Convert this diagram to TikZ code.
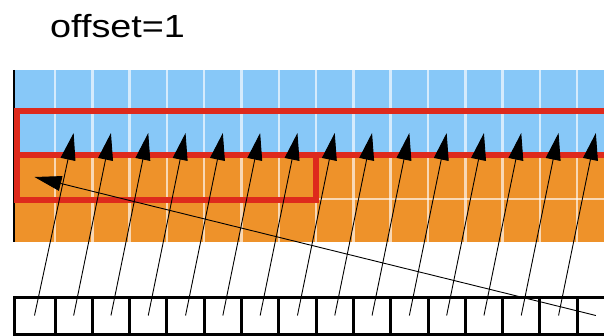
\documentclass[tikz,border=0pt]{standalone}
\usepackage{fontspec}
\setmainfont{Liberation Sans}
\usetikzlibrary{arrows.meta}

\definecolor{cellblue}{RGB}{135,200,248}
\definecolor{cellorange}{RGB}{238,146,42}
\definecolor{framered}{RGB}{222,42,28}

\begin{document}
\begin{tikzpicture}[
  x=1pt, y=-1pt,
  gridline/.style={white, opacity=0.65, line width=2.5pt},
  frame/.style={draw=framered, line width=6pt},
  cellbox/.style={draw, line width=3pt, fill=white, minimum height=37pt, inner sep=0pt},
  arrow/.style={-{Triangle[length=27pt, width=15pt]}, line width=0.9pt}
]
  \useasboundingbox (0,0) rectangle (604,336);
  \clip (0,0) rectangle (604,336);

  \node[anchor=base west, font=\fontsize{32}{38}\selectfont, xscale=1.18, inner sep=0pt] (title) at (50,38) {offset=1};

  \fill[cellblue] (14,70) rectangle (604,155);
  \fill[cellorange] (14,155) rectangle (604,242);
  \foreach \k in {0,...,14}
    \draw[gridline] ({55+37.3*\k},70) -- ({55+37.3*\k},242);
  \draw[gridline] (14,199) -- (604,199);
  \draw[line width=1.5pt] (14,70) -- (14,242);

  \draw[frame] (17,111) rectangle (620,155);
  \draw[frame] (17,155) rectangle (316,200);

  \node[cellbox, minimum width=41pt] (b0) at (34.5,315.5) {};
  \foreach \k in {1,...,15}
    \node[cellbox, minimum width=37.3pt] (b\k) at ({36.35+37.3*\k},315.5) {};

  \coordinate (s0) at (34.5,177);
  \foreach \k in {1,...,15}
    \coordinate (t\k) at ({36.35+37.3*\k},133);

  \foreach \k [evaluate=\k as \j using int(\k+1)] in {0,...,14}
    \draw[arrow] (b\k.center) -- (t\j);
  \draw[arrow] (b15.center) -- (s0);
\end{tikzpicture}
\end{document}
